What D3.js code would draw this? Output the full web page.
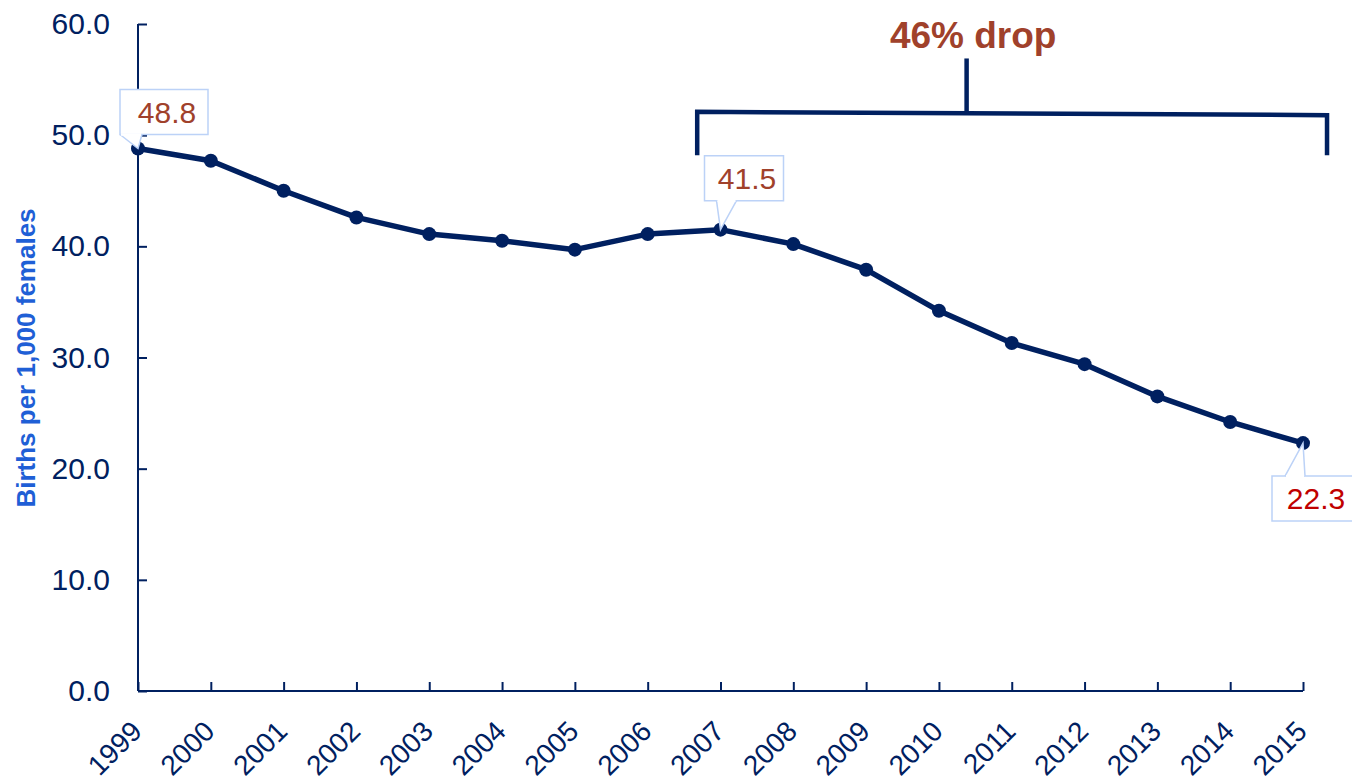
<!DOCTYPE html>
<html>
<head>
<meta charset="utf-8">
<script src="https://cdn.jsdelivr.net/npm/d3@7"></script>
<style>
  body { margin: 0; background: #fff; }
  text { font-family: "Liberation Sans", Arial, sans-serif; }
</style>
</head>
<body>
<script>
var years = ["1999", "2000", "2001", "2002", "2003", "2004", "2005", "2006", "2007",
             "2008", "2009", "2010", "2011", "2012", "2013", "2014", "2015"];
var rates = [48.8, 47.7, 45.0, 42.6, 41.1, 40.5, 39.7, 41.1, 41.5,
             40.2, 37.9, 34.2, 31.3, 29.4, 26.5, 24.2, 22.3];
var yTicks = [0, 10, 20, 30, 40, 50, 60];
var callouts = [
    {year: "1999", text: "48.8", color: "#a0412b"},
    {year: "2007", text: "41.5", color: "#a0412b"},
    {year: "2015", text: "22.3", color: "#c00000"}
];

var navy = "#002060";
var width = 1352, height = 780;
var margin = {top: 24, right: 49, bottom: 89, left: 138};
var w = width - margin.left - margin.right,
    h = height - margin.top - margin.bottom;

var svg = d3.select("body").append("svg")
    .attr("width", width)
    .attr("height", height)
    .append("g")
    .attr("transform", "translate(" + margin.left + "," + margin.top + ")");

var x = d3.scalePoint()
    .domain(years)
    .range([0, w]);
var y = d3.scaleLinear()
    .domain([0, 60])
    .range([h, 0]);

// index-based x for annotation positions between years
var xi = d3.scaleLinear()
    .domain([0, years.length - 1])
    .range([0, w]);

// y axis
var yAxis = svg.append("g")
    .call(d3.axisRight(y).tickValues(yTicks).tickSize(9).tickFormat(d3.format(".1f")));
yAxis.select(".domain").attr("stroke", navy).attr("stroke-width", 2).attr("d", "M0," + h + "V0");
yAxis.selectAll(".tick line").attr("stroke", navy).attr("stroke-width", 2);
yAxis.selectAll(".tick text")
    .attr("x", -28)
    .attr("text-anchor", "end")
    .attr("fill", navy)
    .style("font-size", "30px");

// x axis
var xAxis = svg.append("g")
    .attr("transform", "translate(0," + h + ")")
    .call(d3.axisTop(x).tickSize(9));
xAxis.select(".domain").attr("stroke", navy).attr("stroke-width", 2).attr("d", "M0,0H" + w);
xAxis.selectAll(".tick line").attr("stroke", navy).attr("stroke-width", 2);
xAxis.selectAll(".tick text")
    .attr("y", 0)
    .attr("dy", 0)
    .attr("text-anchor", "end")
    .attr("transform", "translate(5,42) rotate(-45)")
    .attr("fill", navy)
    .style("font-size", "28px");

svg.append("text")
    .attr("transform", "translate(" + (35 - margin.left) + "," + (358 - margin.top) + ") rotate(-90)")
    .attr("text-anchor", "middle")
    .attr("fill", "#1f5fd6")
    .style("font-size", "26px")
    .style("font-weight", "bold")
    .text("Births per 1,000 females");

// line + markers
var points = years.map(function(yr, i) { return {year: yr, value: rates[i]}; });
var line = d3.line()
    .x(d => x(d.year))
    .y(d => y(d.value));

svg.append("path")
    .datum(points)
    .attr("fill", "none")
    .attr("stroke", navy)
    .attr("stroke-width", 5.5)
    .attr("stroke-linejoin", "round")
    .attr("d", line);

svg.selectAll(".dot")
    .data(points)
    .enter()
    .append("circle")
    .attr("class", "dot")
    .attr("cx", d => x(d.year))
    .attr("cy", d => y(d.value))
    .attr("r", 7)
    .attr("fill", navy);

// bracket: 46% drop
var bx0 = xi(7.68), bx1 = xi(16.33), bmid = xi(11.38);
var bracket = svg.append("g")
    .attr("fill", "none")
    .attr("stroke", navy)
    .attr("stroke-width", 4.5);
bracket.append("path")
    .attr("d", "M" + bx0 + "," + y(48.2) + "V" + y(52.1) + "L" + bx1 + "," + y(51.8) + "V" + y(48.2));
bracket.append("path")
    .attr("d", "M" + bmid + "," + y(52.0) + "V" + y(56.9));

svg.append("text")
    .attr("x", xi(11.47))
    .attr("y", y(57.8))
    .attr("text-anchor", "middle")
    .attr("fill", "#a0412b")
    .style("font-size", "37px")
    .style("font-weight", "bold")
    .text("46% drop");

// callout boxes
var boxH = 45;
var boxes = {
    "1999": {dx: -18, dy: -59, bw: 88, below: false, px0: 0, px1: 22},
    "2007": {dx: -16, dy: -74, bw: 79, below: false, px0: 12, px1: 32},
    "2015": {dx: -31, dy: 33, bw: 82, below: true, px0: 13, px1: 33}
};
callouts.forEach(function(c) {
    var i = years.indexOf(c.year);
    var cx = x(c.year), cy = y(rates[i]);
    var b = boxes[c.year];
    var bx = cx + b.dx, by = cy + b.dy, bw = b.bw;
    var g = svg.append("g");
    var pEdge = b.below ? by : by + boxH;
    g.append("path")
        .attr("d", "M" + bx + "," + by + "H" + (bx + bw) + "V" + (by + boxH) + "H" + bx + "Z")
        .attr("fill", "#fff")
        .attr("stroke", "#bcd2f7")
        .attr("stroke-width", 1.5);
    g.append("path")
        .attr("d", "M" + (bx + b.px0) + "," + pEdge + "L" + cx + "," + cy + "L" + (bx + b.px1) + "," + pEdge)
        .attr("fill", "#fff")
        .attr("stroke", "#bcd2f7")
        .attr("stroke-width", 1.5);
    g.append("line")
        .attr("x1", bx + b.px0 + 1).attr("x2", bx + b.px1 - 1)
        .attr("y1", pEdge).attr("y2", pEdge)
        .attr("stroke", "#fff")
        .attr("stroke-width", 2.5);
    g.append("text")
        .attr("x", bx + bw / 2 + 3)
        .attr("y", by + boxH / 2)
        .attr("dy", "0.36em")
        .attr("text-anchor", "middle")
        .attr("fill", c.color)
        .style("font-size", "30px")
        .text(c.text);
});
</script>
</body>
</html>
